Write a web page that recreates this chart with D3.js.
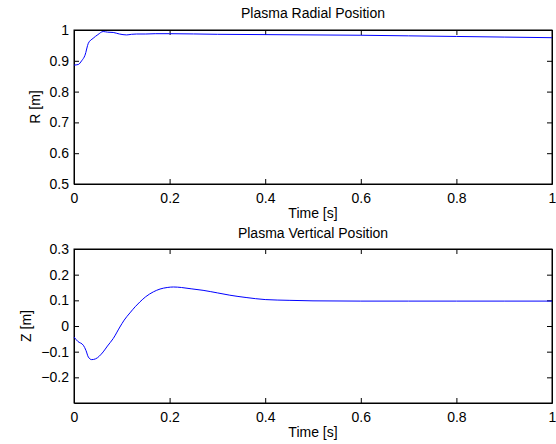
<!DOCTYPE html>
<html>
<head>
<meta charset="utf-8">
<title>Plasma Position</title>
<script src="https://d3js.org/d3.v7.min.js"></script>
<style>
  body { margin: 0; background: #fff; }
  text { font-family: "Liberation Sans", Arial, sans-serif; fill: #000; }
</style>
</head>
<body>
<div id="chart"></div>
<script>
/* global d3 */

// radial position R [m] vs time [s]
const timeR = [0, 0.009, 0.016, 0.023, 0.03, 0.04, 0.05, 0.061, 0.07, 0.082, 0.095, 0.11, 0.12, 0.131, 0.15, 0.17, 0.2, 0.3, 0.4, 0.5, 0.6, 0.7, 0.8, 0.9, 1.0];
const radius = [0.886, 0.888, 0.9, 0.918, 0.957, 0.973, 0.985, 0.995, 0.993, 0.992, 0.987, 0.984, 0.986, 0.987, 0.987, 0.988, 0.988, 0.986, 0.985, 0.984, 0.983, 0.981, 0.979, 0.977, 0.975];

// vertical position Z [m] vs time [s]
const timeZ = [0, 0.008, 0.0195, 0.025, 0.03, 0.037, 0.045, 0.061, 0.07, 0.082, 0.096, 0.105, 0.117, 0.128, 0.138, 0.15, 0.166, 0.18, 0.195, 0.208, 0.225, 0.245, 0.27, 0.3, 0.326, 0.36, 0.4, 0.45, 0.5, 0.6, 0.7, 0.8, 0.9, 1.0];
const zpos = [-0.043, -0.06, -0.075, -0.095, -0.121, -0.131, -0.128, -0.101, -0.078, -0.049, -0.004, 0.023, 0.051, 0.075, 0.094, 0.114, 0.133, 0.144, 0.15, 0.152, 0.15, 0.145, 0.139, 0.129, 0.12, 0.111, 0.103, 0.1, 0.098, 0.097, 0.097, 0.097, 0.097, 0.097];

const xTicks = [0, 0.2, 0.4, 0.6, 0.8, 1];
const rTicks = [0.5, 0.6, 0.7, 0.8, 0.9, 1];
const zTicks = [-0.2, -0.1, 0, 0.1, 0.2, 0.3];

const W = 556, H = 444;
const left = 74, right = 552;
const fs = '14px';

const svg = d3.select('#chart').append('svg')
  .attr('width', W).attr('height', H);

function panel(cfg) {
  const x = d3.scaleLinear().domain([0, 1]).range([left, right]);
  const y = d3.scaleLinear().domain(cfg.ydom).range([cfg.bottom, cfg.top]);
  const g = svg.append('g');
  const tl = 5;

  g.append('g').attr('transform', `translate(0,${cfg.bottom})`)
    .call(d3.axisBottom(x).tickValues(xTicks).tickSizeInner(-tl).tickSizeOuter(0).tickPadding(9).tickFormat(d3.format('')));
  g.append('g').attr('transform', `translate(0,${cfg.top})`)
    .call(d3.axisTop(x).tickValues(xTicks).tickSizeInner(-tl).tickSizeOuter(0).tickFormat(''));
  g.append('g').attr('transform', `translate(${left},0)`)
    .call(d3.axisLeft(y).tickValues(cfg.yticks).tickSizeInner(-tl).tickSizeOuter(0).tickPadding(5)
      .tickFormat(d => d < 0 ? '\u2212' + Math.abs(d) : String(d)));
  g.append('g').attr('transform', `translate(${right},0)`)
    .call(d3.axisRight(y).tickValues(cfg.yticks).tickSizeInner(-tl).tickSizeOuter(0).tickFormat(''));

  g.selectAll('.domain').attr('stroke', '#000');
  g.selectAll('.tick line').attr('stroke', '#000');
  g.selectAll('.tick text').style('font-size', fs).style('font-family', '"Liberation Sans", Arial, sans-serif');

  g.append('rect')
    .attr('x', left).attr('y', cfg.top)
    .attr('width', right - left).attr('height', cfg.bottom - cfg.top)
    .attr('fill', 'none').attr('stroke', '#000').attr('stroke-width', 1);

  const line = d3.line().curve(d3.curveMonotoneX)
    .x((d, i) => x(cfg.t[i])).y(d => y(d));
  g.append('path').datum(cfg.v)
    .attr('d', line).attr('fill', 'none')
    .attr('stroke', '#0000ff').attr('stroke-width', 1);

  g.append('text').attr('x', 313).attr('y', cfg.titleY)
    .attr('text-anchor', 'middle').style('font-size', fs).text(cfg.title);
  g.append('text').attr('x', 313).attr('y', cfg.bottom + 34)
    .attr('text-anchor', 'middle').style('font-size', fs).text('Time [s]');
  g.append('text')
    .attr('transform', `translate(${cfg.ylx},${(cfg.top + cfg.bottom) / 2}) rotate(-90)`)
    .attr('text-anchor', 'middle').style('font-size', fs).text(cfg.ylabel);
}

panel({ top: 30, bottom: 184, ydom: [0.5, 1], yticks: rTicks, t: timeR, v: radius,
  title: 'Plasma Radial Position', titleY: 18, ylabel: 'R [m]', ylx: 40 });
panel({ top: 249, bottom: 403, ydom: [-0.3, 0.3], yticks: zTicks, t: timeZ, v: zpos,
  title: 'Plasma Vertical Position', titleY: 238, ylabel: 'Z [m]', ylx: 31 });
</script>
</body>
</html>
